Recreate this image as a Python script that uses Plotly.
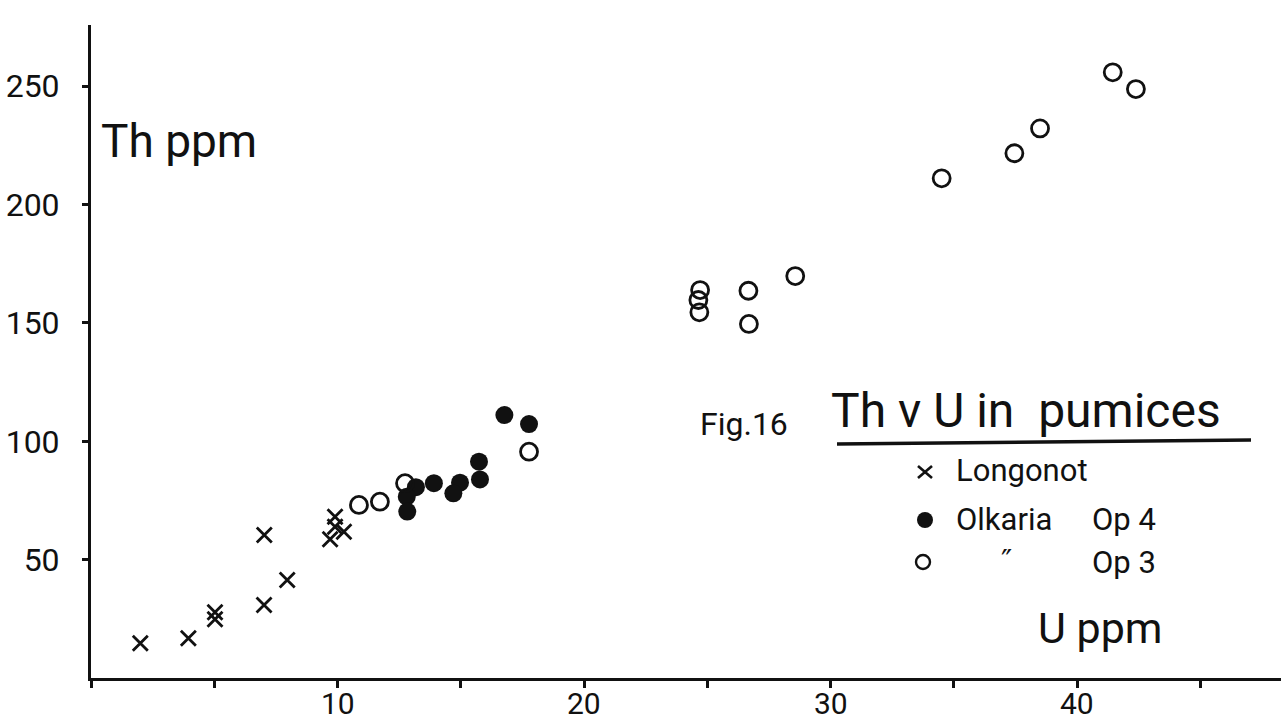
import plotly.graph_objects as go

# ---------------- data ----------------
longonot_u = [2.0, 3.95, 5.03, 5.03, 7.03, 7.02, 7.96, 9.9, 9.9, 9.7, 10.26]
longonot_th = [14.7, 16.8, 27.8, 24.8, 60.4, 30.8, 41.4, 68.1, 63.9, 58.6, 61.8]

op4_u = [16.77, 17.77, 15.74, 15.78, 14.97, 14.7, 13.91, 13.18, 12.81, 12.83]
op4_th = [111.1, 107.3, 91.4, 83.9, 82.5, 78.0, 82.3, 80.6, 76.6, 70.3]

op3_u = [17.77, 12.74, 10.87, 11.72, 41.45, 42.39, 38.5, 37.46, 34.51,
         28.57, 26.67, 26.69, 24.71, 24.64, 24.68]
op3_th = [95.6, 82.3, 73.1, 74.5, 255.9, 248.8, 232.2, 221.7, 211.1,
          169.8, 163.6, 149.6, 163.9, 159.7, 154.5]

x_tickvals = [0, 5, 10, 15, 20, 25, 30, 35, 40, 45]
x_labelvals = [10, 20, 30, 40]
x_labeltext = ["10", "20", "30", "40"]
y_tickvals = [50, 100, 150, 200, 250]
y_ticktext = ["50", "100", "150", "200", "250"]

# ---------------- layout geometry ----------------
W, H = 1281, 721
ML, MR, MT, MB = 91, 0, 25, 43
PX_PER_U = 24.65
PX_PER_TH = 2.367
INK = "#111111"
FONT = "Roboto"

plot_w = W - ML - MR
plot_h = H - MT - MB
XMAX = plot_w / PX_PER_U
YMAX = plot_h / PX_PER_TH


def px2x(px):
    return (px - ML) / plot_w * XMAX


def py2y(py):
    return (H - MB - py) / plot_h * YMAX


fig = go.Figure()
fig.add_trace(go.Scatter(
    x=longonot_u, y=longonot_th, mode="markers", name="Longonot",
    marker=dict(symbol="x-thin", size=15, line=dict(width=2.8, color=INK), color=INK),
))
fig.add_trace(go.Scatter(
    x=op4_u, y=op4_th, mode="markers", name="Olkaria Op 4",
    marker=dict(symbol="circle", size=18, color=INK, line=dict(width=0)),
))
fig.add_trace(go.Scatter(
    x=op3_u, y=op3_th, mode="markers", name="Olkaria Op 3",
    marker=dict(symbol="circle-open", size=17, color=INK, line=dict(width=2.8, color=INK)),
))

annotations = []


def label(text, px, py, size, xanchor="left", family=FONT):
    annotations.append(dict(
        text=text, x=px2x(px), y=py2y(py), xref="x", yref="y",
        xanchor=xanchor, yanchor="middle", showarrow=False,
        font=dict(family=family, size=size, color=INK),
    ))


# x-axis tick labels placed under the tick marks (data x, just below the axis)
for v, t in zip(x_labelvals, x_labeltext):
    annotations.append(dict(
        text=t, x=v, y=0, xref="x", yref="paper",
        xanchor="center", yanchor="top", yshift=-6, showarrow=False,
        font=dict(family=FONT, size=30, color=INK),
    ))

label("Th ppm", 99, 141, 46)
label("U ppm", 1036, 628, 43)
label("Fig.16", 698, 424, 32)
label("Th v U in\u00a0\u00a0pumices", 829, 410, 48)
label("Longonot", 954, 470, 31)
label("Olkaria", 954, 519, 31)
label("Op 4", 1090, 519, 31)
label("\u2033", 1006, 560, 30, xanchor="center", family="DejaVu Sans")
label("Op 3", 1090, 562, 31)

shapes = [
    dict(type="line", xref="x", yref="y", x0=px2x(837), y0=py2y(444),
         x1=px2x(1251), y1=py2y(440), line=dict(color=INK, width=3.5)),
    # legend keys
    dict(type="line", xref="x", yref="y", xsizemode="pixel", ysizemode="pixel",
         xanchor=px2x(925), yanchor=py2y(472), x0=-7, x1=7, y0=-6, y1=6,
         line=dict(color=INK, width=2.6)),
    dict(type="line", xref="x", yref="y", xsizemode="pixel", ysizemode="pixel",
         xanchor=px2x(925), yanchor=py2y(472), x0=-7, x1=7, y0=6, y1=-6,
         line=dict(color=INK, width=2.6)),
    dict(type="circle", xref="x", yref="y", xsizemode="pixel", ysizemode="pixel",
         xanchor=px2x(925), yanchor=py2y(520), x0=-8, x1=8, y0=-8, y1=8,
         fillcolor=INK, line=dict(color=INK, width=0)),
    dict(type="circle", xref="x", yref="y", xsizemode="pixel", ysizemode="pixel",
         xanchor=px2x(923), yanchor=py2y(562), x0=-7, x1=7, y0=-7, y1=7,
         fillcolor="rgba(0,0,0,0)", line=dict(color=INK, width=2.4)),
]

fig.update_layout(
    width=W, height=H,
    margin=dict(l=ML, r=MR, t=MT, b=MB, pad=0),
    paper_bgcolor="white", plot_bgcolor="white",
    showlegend=False,
    annotations=annotations,
    shapes=shapes,
    xaxis=dict(
        range=[0, XMAX], showgrid=False, zeroline=False,
        showline=True, linewidth=3, linecolor=INK,
        ticks="outside", ticklen=7, tickwidth=2.5, tickcolor=INK,
        tickmode="array", tickvals=x_tickvals, showticklabels=False,
        automargin=False,
    ),
    yaxis=dict(
        range=[0, YMAX], showgrid=False, zeroline=False,
        showline=True, linewidth=3, linecolor=INK,
        ticks="outside", ticklen=6, tickwidth=2.5, tickcolor=INK,
        tickmode="array", tickvals=y_tickvals, ticktext=y_ticktext,
        tickfont=dict(family=FONT, size=32, color=INK),
        ticklabelstandoff=16, automargin=False,
    ),
)

# remove the browser's default 8px body margin so the figure fills the window exactly
fig.write_html(
    "out.html",
    config={"displayModeBar": False},
    post_script="document.body.style.margin='0px';",
)
